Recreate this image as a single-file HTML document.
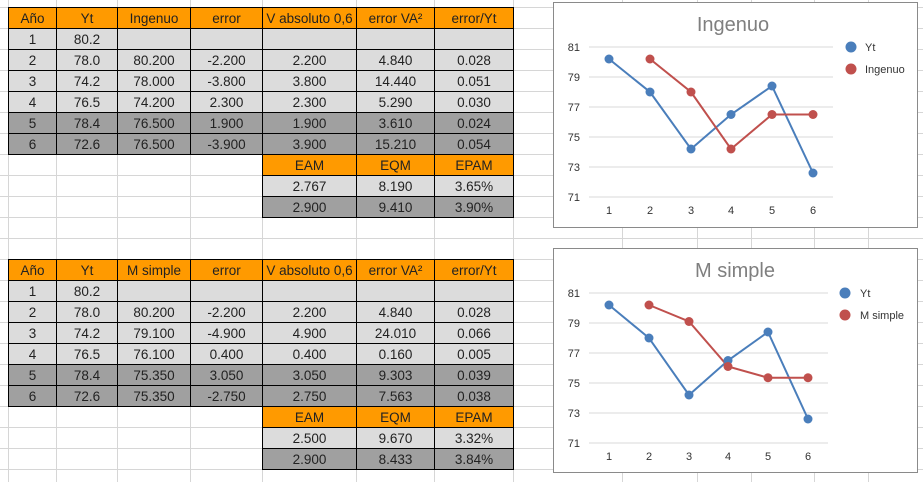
<!DOCTYPE html>
<html><head><meta charset="utf-8"><style>
body{margin:0;width:923px;height:482px;background:#fff;position:relative;overflow:hidden;font-family:"Liberation Sans",sans-serif}
table{position:absolute;border-collapse:collapse;table-layout:fixed;font-size:13.5px;color:#222}
td{height:20px;padding:0;border:1px solid #000;text-align:center;white-space:nowrap;overflow:hidden}
.h td{background:#ff9a00}
.l td{background:#dcdcdc}
.d td{background:#a0a0a0}
td.n{border:none;background:transparent}
</style></head><body>
<svg width="923" height="482" style="position:absolute;left:0;top:0">
<g stroke="#d6d6d6" stroke-width="1">
<line x1="8.5" y1="0" x2="8.5" y2="482"/><line x1="56.5" y1="0" x2="56.5" y2="482"/><line x1="117.5" y1="0" x2="117.5" y2="482"/><line x1="190.5" y1="0" x2="190.5" y2="482"/><line x1="262.5" y1="0" x2="262.5" y2="482"/><line x1="356.5" y1="0" x2="356.5" y2="482"/><line x1="434.5" y1="0" x2="434.5" y2="482"/><line x1="513.5" y1="0" x2="513.5" y2="482"/><line x1="622.5" y1="0" x2="622.5" y2="482"/><line x1="697.5" y1="0" x2="697.5" y2="482"/><line x1="751.5" y1="0" x2="751.5" y2="482"/><line x1="814.5" y1="0" x2="814.5" y2="482"/><line x1="868.5" y1="0" x2="868.5" y2="482"/>
<line x1="0" y1="7.5" x2="923" y2="7.5"/><line x1="0" y1="28.5" x2="923" y2="28.5"/><line x1="0" y1="49.5" x2="923" y2="49.5"/><line x1="0" y1="70.5" x2="923" y2="70.5"/><line x1="0" y1="91.5" x2="923" y2="91.5"/><line x1="0" y1="112.5" x2="923" y2="112.5"/><line x1="0" y1="133.5" x2="923" y2="133.5"/><line x1="0" y1="154.5" x2="923" y2="154.5"/><line x1="0" y1="175.5" x2="923" y2="175.5"/><line x1="0" y1="196.5" x2="923" y2="196.5"/><line x1="0" y1="217.5" x2="923" y2="217.5"/><line x1="0" y1="238.5" x2="923" y2="238.5"/><line x1="0" y1="259.5" x2="923" y2="259.5"/><line x1="0" y1="280.5" x2="923" y2="280.5"/><line x1="0" y1="301.5" x2="923" y2="301.5"/><line x1="0" y1="322.5" x2="923" y2="322.5"/><line x1="0" y1="343.5" x2="923" y2="343.5"/><line x1="0" y1="364.5" x2="923" y2="364.5"/><line x1="0" y1="385.5" x2="923" y2="385.5"/><line x1="0" y1="406.5" x2="923" y2="406.5"/><line x1="0" y1="427.5" x2="923" y2="427.5"/><line x1="0" y1="448.5" x2="923" y2="448.5"/><line x1="0" y1="469.5" x2="923" y2="469.5"/>
</g>
<!-- chart 1 -->
<rect x="553.5" y="2.5" width="364" height="225" fill="#fff" stroke="#8a8a8a"/>
<text x="733" y="31" font-size="20" fill="#7f7f7f" text-anchor="middle">Ingenuo</text>
<g stroke="#d9d9d9"><line x1="589" y1="47" x2="833" y2="47"/><line x1="589" y1="77" x2="833" y2="77"/><line x1="589" y1="107" x2="833" y2="107"/><line x1="589" y1="137" x2="833" y2="137"/><line x1="589" y1="167" x2="833" y2="167"/><line x1="589" y1="197" x2="833" y2="197"/></g>
<g font-size="11" fill="#333" text-anchor="end"><text x="580" y="51">81</text><text x="580" y="81">79</text><text x="580" y="111">77</text><text x="580" y="141">75</text><text x="580" y="171">73</text><text x="580" y="201">71</text></g>
<g font-size="11" fill="#333" text-anchor="middle"><text x="609" y="214">1</text><text x="650" y="214">2</text><text x="691" y="214">3</text><text x="731" y="214">4</text><text x="772" y="214">5</text><text x="813" y="214">6</text></g>
<polyline points="609,59 650,92 691,149 731,114.5 772,86 813,173" fill="none" stroke="#4a7ebb" stroke-width="2"/>
<polyline points="650,59 691,92 731,149 772,114.5 813,114.5" fill="none" stroke="#c0504d" stroke-width="2"/>
<g fill="#4a7ebb"><circle cx="609" cy="59" r="4.5"/><circle cx="650" cy="92" r="4.5"/><circle cx="691" cy="149" r="4.5"/><circle cx="731" cy="114.5" r="4.5"/><circle cx="772" cy="86" r="4.5"/><circle cx="813" cy="173" r="4.5"/><circle cx="851" cy="47" r="5.5"/></g>
<g fill="#c0504d"><circle cx="650" cy="59" r="4.5"/><circle cx="691" cy="92" r="4.5"/><circle cx="731" cy="149" r="4.5"/><circle cx="772" cy="114.5" r="4.5"/><circle cx="813" cy="114.5" r="4.5"/><circle cx="851" cy="69" r="5.5"/></g>
<text x="865" y="51" font-size="11" fill="#333">Yt</text><text x="865" y="73" font-size="11" fill="#333">Ingenuo</text>
<!-- chart 2 -->
<rect x="553.5" y="248.5" width="364" height="224" fill="#fff" stroke="#8a8a8a"/>
<text x="735" y="277" font-size="20" fill="#7f7f7f" text-anchor="middle">M simple</text>
<g stroke="#d9d9d9"><line x1="589" y1="293" x2="828" y2="293"/><line x1="589" y1="323" x2="828" y2="323"/><line x1="589" y1="353" x2="828" y2="353"/><line x1="589" y1="383" x2="828" y2="383"/><line x1="589" y1="413" x2="828" y2="413"/><line x1="589" y1="443" x2="828" y2="443"/></g>
<g font-size="11" fill="#333" text-anchor="end"><text x="580" y="297">81</text><text x="580" y="327">79</text><text x="580" y="357">77</text><text x="580" y="387">75</text><text x="580" y="417">73</text><text x="580" y="447">71</text></g>
<g font-size="11" fill="#333" text-anchor="middle"><text x="609" y="460">1</text><text x="649" y="460">2</text><text x="689" y="460">3</text><text x="728" y="460">4</text><text x="768" y="460">5</text><text x="808" y="460">6</text></g>
<polyline points="609,305 649,338 689,395 728,360.5 768,332 808,419" fill="none" stroke="#4a7ebb" stroke-width="2"/>
<polyline points="649,305 689,321.5 728,366.5 768,377.75 808,377.75" fill="none" stroke="#c0504d" stroke-width="2"/>
<g fill="#4a7ebb"><circle cx="609" cy="305" r="4.5"/><circle cx="649" cy="338" r="4.5"/><circle cx="689" cy="395" r="4.5"/><circle cx="728" cy="360.5" r="4.5"/><circle cx="768" cy="332" r="4.5"/><circle cx="808" cy="419" r="4.5"/><circle cx="845" cy="293" r="5.5"/></g>
<g fill="#c0504d"><circle cx="649" cy="305" r="4.5"/><circle cx="689" cy="321.5" r="4.5"/><circle cx="728" cy="366.5" r="4.5"/><circle cx="768" cy="377.75" r="4.5"/><circle cx="808" cy="377.75" r="4.5"/><circle cx="845" cy="315" r="5.5"/></g>
<text x="860" y="297" font-size="11" fill="#333">Yt</text><text x="860" y="319" font-size="11" fill="#333">M simple</text>
</svg>

<table style="left:8px;top:7px;width:506px">
<colgroup><col style="width:48px"><col style="width:61px"><col style="width:73px"><col style="width:72px"><col style="width:94px"><col style="width:78px"><col style="width:79px"></colgroup>
<tr class="h"><td>Año</td><td>Yt</td><td>Ingenuo</td><td>error</td><td>V absoluto 0,6</td><td>error VA²</td><td>error/Yt</td></tr>
<tr class="l"><td>1</td><td>80.2</td><td></td><td></td><td></td><td></td><td></td></tr>
<tr class="l"><td>2</td><td>78.0</td><td>80.200</td><td>-2.200</td><td>2.200</td><td>4.840</td><td>0.028</td></tr>
<tr class="l"><td>3</td><td>74.2</td><td>78.000</td><td>-3.800</td><td>3.800</td><td>14.440</td><td>0.051</td></tr>
<tr class="l"><td>4</td><td>76.5</td><td>74.200</td><td>2.300</td><td>2.300</td><td>5.290</td><td>0.030</td></tr>
<tr class="d"><td>5</td><td>78.4</td><td>76.500</td><td>1.900</td><td>1.900</td><td>3.610</td><td>0.024</td></tr>
<tr class="d"><td>6</td><td>72.6</td><td>76.500</td><td>-3.900</td><td>3.900</td><td>15.210</td><td>0.054</td></tr>
<tr class="h"><td class="n"></td><td class="n"></td><td class="n"></td><td class="n"></td><td>EAM</td><td>EQM</td><td>EPAM</td></tr>
<tr class="l"><td class="n"></td><td class="n"></td><td class="n"></td><td class="n"></td><td>2.767</td><td>8.190</td><td>3.65%</td></tr>
<tr class="d"><td class="n"></td><td class="n"></td><td class="n"></td><td class="n"></td><td>2.900</td><td>9.410</td><td>3.90%</td></tr>
</table>

<table style="left:8px;top:259px;width:506px">
<colgroup><col style="width:48px"><col style="width:61px"><col style="width:73px"><col style="width:72px"><col style="width:94px"><col style="width:78px"><col style="width:79px"></colgroup>
<tr class="h"><td>Año</td><td>Yt</td><td>M simple</td><td>error</td><td>V absoluto 0,6</td><td>error VA²</td><td>error/Yt</td></tr>
<tr class="l"><td>1</td><td>80.2</td><td></td><td></td><td></td><td></td><td></td></tr>
<tr class="l"><td>2</td><td>78.0</td><td>80.200</td><td>-2.200</td><td>2.200</td><td>4.840</td><td>0.028</td></tr>
<tr class="l"><td>3</td><td>74.2</td><td>79.100</td><td>-4.900</td><td>4.900</td><td>24.010</td><td>0.066</td></tr>
<tr class="l"><td>4</td><td>76.5</td><td>76.100</td><td>0.400</td><td>0.400</td><td>0.160</td><td>0.005</td></tr>
<tr class="d"><td>5</td><td>78.4</td><td>75.350</td><td>3.050</td><td>3.050</td><td>9.303</td><td>0.039</td></tr>
<tr class="d"><td>6</td><td>72.6</td><td>75.350</td><td>-2.750</td><td>2.750</td><td>7.563</td><td>0.038</td></tr>
<tr class="h"><td class="n"></td><td class="n"></td><td class="n"></td><td class="n"></td><td>EAM</td><td>EQM</td><td>EPAM</td></tr>
<tr class="l"><td class="n"></td><td class="n"></td><td class="n"></td><td class="n"></td><td>2.500</td><td>9.670</td><td>3.32%</td></tr>
<tr class="d"><td class="n"></td><td class="n"></td><td class="n"></td><td class="n"></td><td>2.900</td><td>8.433</td><td>3.84%</td></tr>
</table>
</body></html>
